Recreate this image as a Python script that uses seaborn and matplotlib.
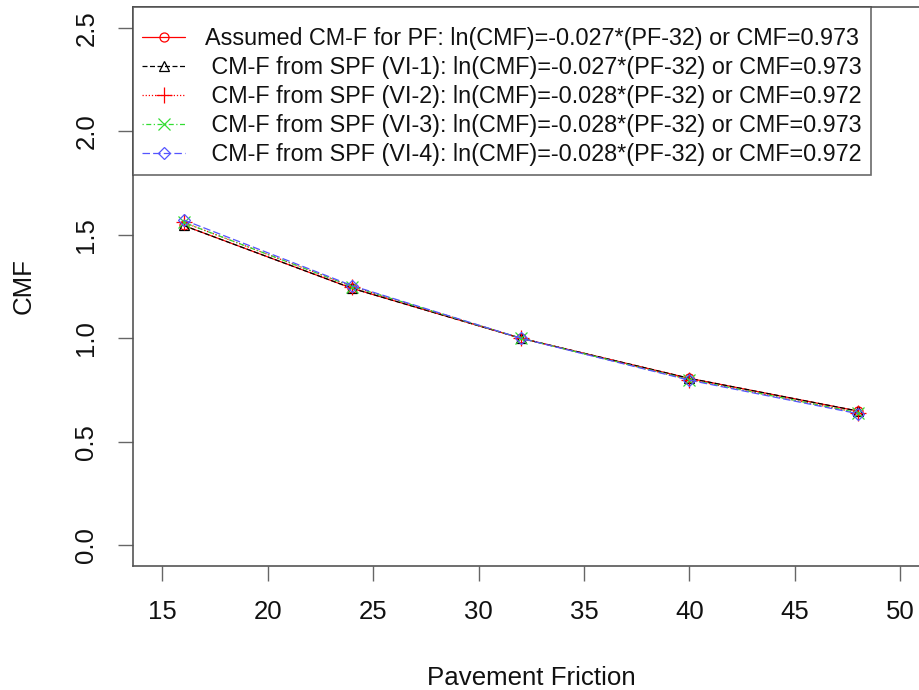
import matplotlib
matplotlib.use("Agg")
import matplotlib.pyplot as plt
import seaborn as sns
import pandas as pd
from matplotlib.lines import Line2D

# ---- data ----
pf = [16, 24, 32, 40, 48]
cmf_assumed = [1.545, 1.241, 1.0, 0.806, 0.648]
cmf_vi1 = [1.545, 1.241, 1.0, 0.806, 0.648]
cmf_vi2 = [1.560, 1.250, 1.0, 0.800, 0.640]
cmf_vi3 = [1.560, 1.250, 1.0, 0.800, 0.640]
cmf_vi4 = [1.572, 1.254, 1.0, 0.797, 0.635]
labels = [
    "Assumed CM-F for PF: ln(CMF)=-0.027*(PF-32) or CMF=0.973",
    " CM-F from SPF (VI-1): ln(CMF)=-0.027*(PF-32) or CMF=0.973",
    " CM-F from SPF (VI-2): ln(CMF)=-0.028*(PF-32) or CMF=0.972",
    " CM-F from SPF (VI-3): ln(CMF)=-0.028*(PF-32) or CMF=0.973",
    " CM-F from SPF (VI-4): ln(CMF)=-0.028*(PF-32) or CMF=0.972",
]
x_ticks = [15, 20, 25, 30, 35, 40, 45, 50]
y_ticks = [0.0, 0.5, 1.0, 1.5, 2.0, 2.5]

series = [cmf_assumed, cmf_vi1, cmf_vi2, cmf_vi3, cmf_vi4]
df = pd.concat(
    [pd.DataFrame({"PF": pf, "CMF": s, "series": lab}) for s, lab in zip(series, labels)],
    ignore_index=True,
)

colors = ["#ff0000", "#000000", "#ff0000", "#33dd33", "#5555ff"]
styles = ["-", (0, (4, 2)), (0, (1, 1.5)), (0, (1, 2, 4, 2)), (0, (6, 2.5))]
markers = ["o", "^", "+", "x", "D"]
msizes = [6.5, 7.5, 11, 9, 6.5]
mfaces = ["none", "none", None, None, "none"]

sns.set_theme(style="white")
plt.rcParams["font.family"] = ["Liberation Sans", "DejaVu Sans"]
plt.rcParams["text.color"] = "#111111"
plt.rcParams["axes.labelcolor"] = "#111111"
plt.rcParams["xtick.color"] = "#111111"
plt.rcParams["ytick.color"] = "#111111"

fig = plt.figure(figsize=(9.2, 6.9), dpi=100)
ax = fig.add_axes([133 / 920, 1 - 565.7 / 690, (929.5 - 133) / 920, (565.7 - 7.3) / 690])

handles = []
for i, lab in enumerate(labels):
    sub = df[df["series"] == lab]
    kw = dict(marker=markers[i], markersize=msizes[i], markeredgecolor=colors[i],
              markeredgewidth=0.9)
    if mfaces[i] == "none":
        kw["markerfacecolor"] = "none"
    sns.lineplot(data=sub, x="PF", y="CMF", ax=ax, color=colors[i], linewidth=0.9,
                 linestyle=styles[i], legend=False, **kw)
    handles.append(Line2D([], [], color=colors[i], linestyle=styles[i], linewidth=0.9,
                          **kw))

ax.set_xlim(13.6, 51.4)
ax.set_ylim(-0.1, 2.6)
ax.set_xticks(x_ticks)
ax.set_yticks(y_ticks)
ax.set_xticklabels([str(t) for t in x_ticks])
ax.set_yticklabels([f"{t:.1f}" for t in y_ticks], rotation=90, va="center")
ax.tick_params(axis="both", which="both", direction="out", length=11, width=1,
               color="#666666", labelsize=18.5, left=True, bottom=True)
ax.tick_params(axis="x", pad=14)
ax.tick_params(axis="y", pad=14)
for sp in ax.spines.values():
    sp.set_color("#555555")
    sp.set_linewidth(1.2)
ax.set_xlabel("Pavement Friction", fontsize=18.6, labelpad=30)
ax.set_ylabel("CMF", fontsize=18.6, labelpad=28)

leg = ax.legend(handles=handles, labels=labels, loc="upper left", bbox_to_anchor=(0, 1),
                borderaxespad=0, frameon=True, fancybox=False, fontsize=16.8,
                title=" ", title_fontsize=3,
                handlelength=1.85, handletextpad=0.85,
                labelspacing=0.26, borderpad=0.4)
leg.get_frame().set_edgecolor("#444444")
leg.get_frame().set_linewidth(1.2)

fig.savefig("out.png", dpi=100)
